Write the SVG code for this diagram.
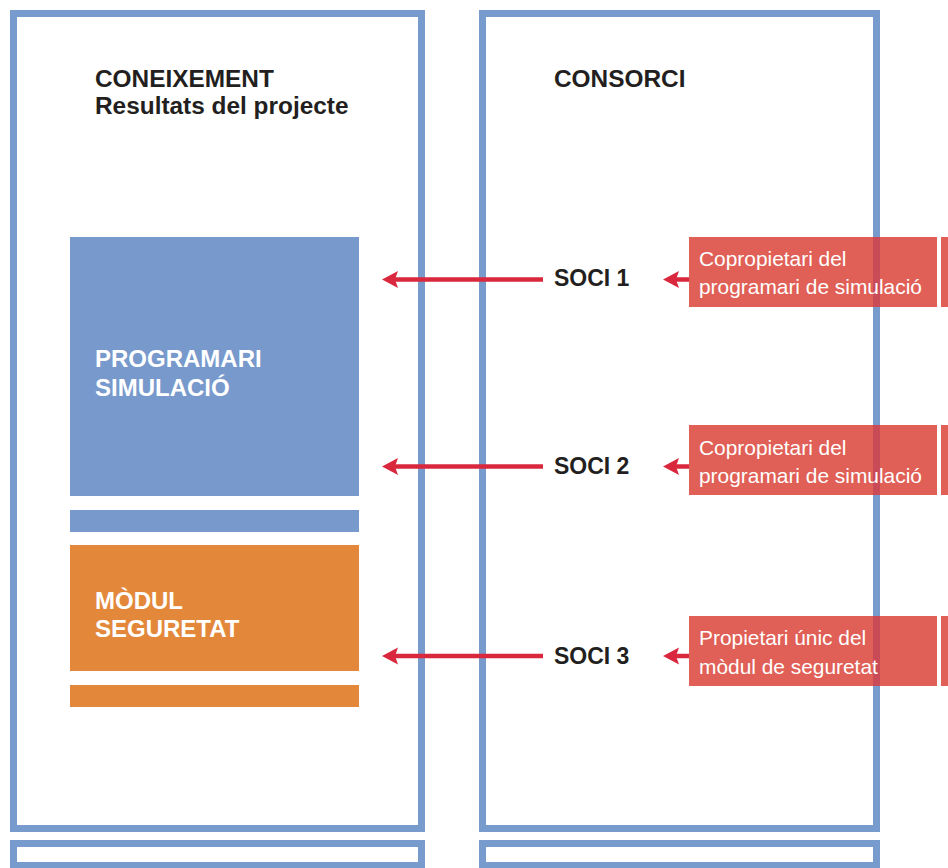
<svg xmlns="http://www.w3.org/2000/svg" width="948" height="868" viewBox="0 0 948 868">
  <defs>
    <style>
      .frame { fill: #ffffff; stroke: #789bcd; stroke-width: 7; }
      .title { font-family: "Liberation Sans", Arial, sans-serif; font-weight: bold; font-size: 24.4px; fill: #231f20; }
      .partner { font-family: "Liberation Sans", Arial, sans-serif; font-weight: bold; font-size: 23px; fill: #231f20; }
      .blocklabel { font-family: "Liberation Sans", Arial, sans-serif; font-weight: bold; font-size: 24px; fill: #ffffff; }
      .rolelabel { font-family: "Liberation Sans", Arial, sans-serif; font-size: 20.9px; fill: #ffffff; }
      .role { fill: #e05f56; }
      .overlap { fill: #c94b58; }
      .link { stroke: #d9283d; stroke-width: 4.5; fill: none; }
      .head { fill: #d9283d; }
    </style>
  </defs>

  <!-- panel frames -->
  <g id="panel-coneixement">
    <rect class="frame" x="13.5" y="13.5" width="408" height="815"/>
    <rect class="frame" x="13.5" y="843.5" width="408" height="22"/>
    <text class="title" x="95" y="86.5">CONEIXEMENT</text>
    <text class="title" x="95" y="113.5">Resultats del projecte</text>
  </g>
  <g id="panel-consorci">
    <rect class="frame" x="482.5" y="13.5" width="394" height="815"/>
    <rect class="frame" x="482.5" y="843.5" width="394" height="22"/>
    <text class="title" x="554" y="86.5">CONSORCI</text>
  </g>

  <!-- knowledge blocks -->
  <g id="programari-simulacio">
    <rect x="70" y="237" width="289" height="259" fill="#7799cc"/>
    <rect x="70" y="510" width="289" height="22" fill="#7799cc"/>
    <text class="blocklabel" x="95" y="366.5">PROGRAMARI</text>
    <text class="blocklabel" x="95" y="395.5">SIMULACIÓ</text>
  </g>
  <g id="modul-seguretat">
    <rect x="70" y="545" width="289" height="126" fill="#e3883b"/>
    <rect x="70" y="685" width="289" height="22" fill="#e3883b"/>
    <text class="blocklabel" x="95" y="609">MÒDUL</text>
    <text class="blocklabel" x="95" y="637">SEGURETAT</text>
  </g>

  <!-- partners -->
  <g id="soci-1">
    <text class="partner" x="554" y="286">SOCI 1</text>
  </g>
  <g id="soci-2">
    <text class="partner" x="554" y="473.5">SOCI 2</text>
  </g>
  <g id="soci-3">
    <text class="partner" x="554" y="663.5">SOCI 3</text>
  </g>

  <!-- ownership roles -->
  <g id="rol-1">
    <rect class="role" x="689" y="237" width="248" height="70"/>
    <rect class="role" x="941" y="237" width="10" height="70"/>
    <rect class="overlap" x="873" y="237" width="7" height="70"/>
    <text class="rolelabel" x="699" y="266">Copropietari del</text>
    <text class="rolelabel" x="699" y="294">programari de simulació</text>
  </g>
  <g id="rol-2">
    <rect class="role" x="689" y="425" width="248" height="70"/>
    <rect class="role" x="941" y="425" width="10" height="70"/>
    <rect class="overlap" x="873" y="425" width="7" height="70"/>
    <text class="rolelabel" x="699" y="455">Copropietari del</text>
    <text class="rolelabel" x="699" y="483">programari de simulació</text>
  </g>
  <g id="rol-3">
    <rect class="role" x="689" y="616" width="248" height="70"/>
    <rect class="role" x="941" y="616" width="10" height="70"/>
    <rect class="overlap" x="873" y="616" width="7" height="70"/>
    <text class="rolelabel" x="699" y="645">Propietari únic del</text>
    <text class="rolelabel" x="699" y="674">mòdul de seguretat</text>
  </g>

  <!-- connectors -->
  <g id="connectors">
    <line class="link" x1="543" y1="279.5" x2="394" y2="279.5"/>
    <path class="head" d="M382,279.5 L398,271 L395,279.5 L398,288 Z"/>
    <line class="link" x1="543" y1="466.5" x2="394" y2="466.5"/>
    <path class="head" d="M382,466.5 L398,458 L395,466.5 L398,475 Z"/>
    <line class="link" x1="543" y1="656" x2="394" y2="656"/>
    <path class="head" d="M382,656 L398,647.5 L395,656 L398,664.5 Z"/>

    <line class="link" x1="689" y1="279.5" x2="675" y2="279.5"/>
    <path class="head" d="M663,279.5 L679,271 L676,279.5 L679,288 Z"/>
    <line class="link" x1="689" y1="466.5" x2="675" y2="466.5"/>
    <path class="head" d="M663,466.5 L679,458 L676,466.5 L679,475 Z"/>
    <line class="link" x1="689" y1="656" x2="675" y2="656"/>
    <path class="head" d="M663,656 L679,647.5 L676,656 L679,664.5 Z"/>
  </g>
</svg>
